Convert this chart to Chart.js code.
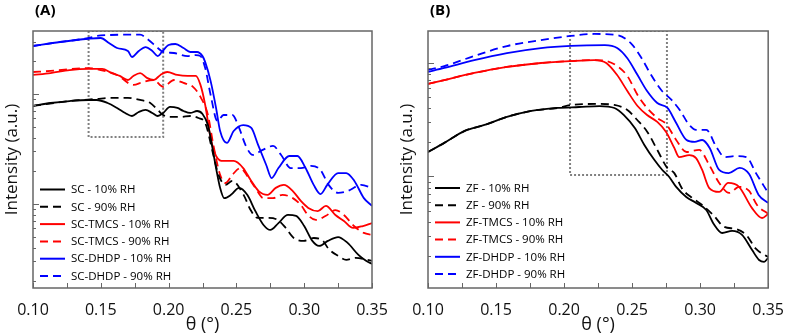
<!DOCTYPE html>
<html><head><meta charset="utf-8">
<script src="https://cdn.jsdelivr.net/npm/chart.js@4.4.1/dist/chart.umd.min.js"></script>
<style>
html,body{margin:0;padding:0;background:#fff;}
#wrap{position:relative;width:789px;height:336px;overflow:hidden;}
canvas{position:absolute;top:0;}
#cA{left:0;} #cB{left:395px;}
</style></head><body>
<div id="wrap"><canvas id="cA" width="395" height="336"></canvas><canvas id="cB" width="394" height="336"></canvas></div>
<script>
// ---------- Panel A (SC) ----------
const labelsA = ['SC - 10% RH','SC - 90% RH','SC-TMCS - 10% RH','SC-TMCS - 90% RH','SC-DHDP - 10% RH','SC-DHDP - 90% RH'];
const thetaA_SC10 = [0.100,0.113,0.127,0.141,0.147,0.155,0.162,0.168,0.173,0.178,0.183,0.188,0.192,0.196,0.201,0.2065,0.211,0.216,0.221,0.225,0.229,0.231,0.235,0.238,0.241,0.246,0.252,0.258,0.264,0.270,0.275,0.281,0.288,0.294,0.300,0.306,0.311,0.3175,0.325,0.332,0.340,0.3456,0.350];
const intA_SC10   = [7.78,8.28,8.63,8.82,8.82,8.28,7.46,6.72,6.31,6.86,7.16,6.72,6.31,6.72,7.62,7.46,7.00,6.72,7.00,6.58,5.22,3.98,2.12,1.40,1.13,1.21,1.40,1.21,0.86,0.644,0.58,0.67,0.794,0.78,0.63,0.461,0.415,0.461,0.50,0.442,0.344,0.304,0.285];
const thetaA_SC90 = [0.100,0.127,0.147,0.157,0.170,0.179,0.1865,0.192,0.196,0.201,0.209,0.216,0.222,0.227,0.233,0.2368,0.242,0.247,0.2553,0.2605,0.2657,0.273,0.2805,0.2864,0.2923,0.2997,0.3071,0.3138,0.318,0.325,0.331,0.338,0.350];
const intA_SC90   = [7.78,8.63,9.01,9.20,9.20,8.82,8.28,7.16,6.44,6.18,6.18,6.31,6.05,5.45,2.79,1.84,1.49,1.62,1.21,0.88,0.746,0.746,0.716,0.605,0.49,0.461,0.49,0.461,0.39,0.337,0.31,0.323,0.304];
const thetaA_TMCS10 = [0.100,0.113,0.127,0.141,0.151,0.158,0.164,0.170,0.174,0.179,0.184,0.189,0.194,0.199,0.2065,0.214,0.220,0.2235,0.227,0.231,0.235,0.2405,0.248,0.255,0.2605,0.2664,0.273,0.279,0.285,0.2916,0.2975,0.303,0.310,0.316,0.323,0.3293,0.336,0.3433,0.350];
const intA_TMCS10   = [14.9,15.5,16.5,16.9,16.9,15.5,14.6,13.4,14.6,15.5,14.0,13.4,14.9,15.85,14.9,14.6,14.6,12.1,7.94,3.98,2.73,2.46,2.46,2.12,1.65,1.31,1.21,1.40,1.49,1.31,1.065,0.92,0.86,0.96,0.794,0.70,0.605,0.63,0.67];
const thetaA_TMCS90 = [0.100,0.113,0.141,0.150,0.162,0.174,0.181,0.189,0.196,0.204,0.211,0.218,0.2235,0.229,0.233,0.238,0.242,0.247,0.253,0.258,0.264,0.270,0.277,0.284,0.2916,0.2975,0.3027,0.3086,0.316,0.323,0.3293,0.3367,0.344,0.350];
const intA_TMCS90   = [15.85,16.2,17.2,16.5,14.9,12.1,12.85,13.4,11.6,13.4,12.6,11.6,9.40,6.44,3.44,1.84,1.55,1.84,2.12,1.80,1.40,1.13,1.13,1.21,1.13,0.98,0.794,0.716,0.78,0.88,0.794,0.63,0.545,0.522];
const thetaA_DHDP10 = [0.100,0.120,0.141,0.150,0.156,0.162,0.170,0.173,0.178,0.183,0.188,0.192,0.195,0.200,0.205,0.211,0.216,0.221,0.225,0.227,0.231,0.235,0.238,0.243,0.248,0.255,0.261,0.266,0.272,0.276,0.281,0.289,0.295,0.301,0.307,0.312,0.317,0.325,0.331,0.337,0.344,0.350];
const intA_DHDP10   = [27.3,29.7,31.8,32.3,29.1,26.2,24.6,21.7,24.6,26.7,24.6,22.1,24.1,27.9,28.5,26.2,24.1,24.1,22.1,19.5,13.1,7.46,4.61,3.59,4.61,5.22,4.91,3.44,2.26,1.72,2.12,2.73,2.73,2.12,1.49,1.23,1.49,1.91,1.91,1.62,1.13,0.96];
const thetaA_DHDP90 = [0.100,0.120,0.141,0.147,0.157,0.170,0.179,0.185,0.192,0.196,0.204,0.214,0.220,0.2235,0.227,0.231,0.236,0.2405,0.247,0.252,0.257,0.262,0.2694,0.277,0.283,0.290,0.2975,0.305,0.312,0.318,0.325,0.332,0.342,0.350];
const intA_DHDP90   = [27.3,29.7,32.3,33.7,34.4,34.6,34.6,31.2,26.2,24.1,23.6,22.1,22.6,22.1,17.2,9.8,5.68,6.44,6.44,4.91,3.37,2.79,3.10,3.37,2.79,2.12,2.12,2.22,2.04,1.49,1.26,1.31,1.49,1.40];
const boxA_theta = [0.141,0.141,0.196,0.196,0.141];
const boxA_int   = [37.4,4.06,4.06,37.4,37.4];
const yRangeA = [0.172, 37.4];

// ---------- Panel B (ZF) ----------
const labelsB = ['ZF - 10% RH','ZF - 90% RH','ZF-TMCS - 10% RH','ZF-TMCS - 90% RH','ZF-DHDP - 10% RH','ZF-DHDP - 90% RH'];
const thetaB_ZF10 = [0.100,0.112,0.127,0.1415,0.158,0.176,0.195,0.211,0.226,0.237,0.244,0.252,0.259,0.2663,0.2722,0.2773,0.2824,0.2898,0.2971,0.3045,0.310,0.3162,0.3235,0.3308,0.3382,0.3433,0.347,0.350];
const intB_ZF10   = [1.64,1.97,2.51,2.83,3.33,3.76,3.99,4.07,4.15,3.99,3.46,2.66,1.89,1.40,1.14,0.99,0.81,0.661,0.586,0.508,0.383,0.319,0.333,0.307,0.226,0.185,0.178,0.193];
const thetaB_ZF90 = [0.100,0.112,0.127,0.1415,0.158,0.176,0.195,0.2054,0.2244,0.2369,0.2465,0.2538,0.2612,0.2685,0.2758,0.281,0.2869,0.2942,0.3015,0.3096,0.3177,0.3264,0.3338,0.3411,0.3485,0.350];
const intB_ZF90   = [1.64,1.97,2.51,2.83,3.33,3.76,3.99,4.24,4.33,4.24,3.83,3.13,2.46,1.71,1.19,1.07,0.777,0.648,0.562,0.459,0.361,0.346,0.307,0.231,0.201,0.197];
const thetaB_TMCS10 = [0.100,0.112,0.134,0.158,0.183,0.205,0.222,0.231,0.239,0.2465,0.254,0.261,0.2685,0.275,0.281,0.2846,0.292,0.297,0.3015,0.3067,0.314,0.3206,0.3286,0.338,0.3455,0.350];
const intB_TMCS10   = [6.48,7.02,8.09,9.14,9.90,10.3,10.5,9.90,7.76,5.62,4.15,3.46,3.01,2.46,1.78,1.48,1.54,1.45,1.14,0.79,0.731,0.877,0.81,0.53,0.432,0.469];
const thetaB_TMCS90 = [0.100,0.112,0.134,0.158,0.183,0.205,0.222,0.2296,0.239,0.2465,0.254,0.261,0.2685,0.275,0.2824,0.290,0.2993,0.3067,0.314,0.3213,0.3286,0.336,0.3418,0.350];
const intB_TMCS90   = [6.48,7.02,8.09,9.14,9.90,10.3,10.5,10.4,9.31,7.62,5.19,3.99,3.26,2.89,2.09,1.64,1.71,1.26,0.877,0.717,0.81,0.746,0.562,0.469];
const thetaB_DHDP10 = [0.100,0.112,0.134,0.158,0.183,0.205,0.230,0.239,0.2465,0.254,0.261,0.2685,0.276,0.282,0.290,0.296,0.3015,0.307,0.314,0.321,0.329,0.336,0.343,0.350];
const intB_DHDP10   = [8.26,8.95,10.5,12.1,13.4,14.0,14.2,13.4,10.9,7.76,5.62,4.41,3.99,3.01,2.09,2.01,2.09,1.78,1.14,1.07,1.19,1.05,0.689,0.586];
const thetaB_DHDP90 = [0.100,0.112,0.134,0.158,0.183,0.205,0.222,0.239,0.249,0.257,0.264,0.2714,0.279,0.285,0.292,0.297,0.3045,0.312,0.318,0.3264,0.334,0.341,0.350];
const intB_DHDP90   = [8.60,9.31,11.4,13.95,15.7,17.1,17.8,17.4,14.8,10.9,7.76,5.74,4.69,3.83,2.83,2.56,2.56,1.81,1.48,1.51,1.48,1.07,0.717];
const boxB_theta = [0.2044,0.2044,0.2756,0.2756,0.2044];
const boxB_int   = [18.9,1.03,1.03,18.9,18.9];
const yRangeB = [0.105, 18.9];

const xTickLabels = ['0.10','0.15','0.20','0.25','0.30','0.35'];

// ---------- helpers ----------
function pts(xs, ys){ return xs.map((x,i)=>({x:x, y:ys[i]})); }
const COLORS = ['#000000','#000000','#ff0000','#ff0000','#0000ff','#0000ff'];
const DASH = [8,5];
function series(label, i, xs, ys){
  return {label, data: pts(xs, ys), borderColor: COLORS[i], borderWidth: 1.8,
    borderDash: (i % 2 === 1) ? DASH : [], pointRadius: 0, fill: false,
    cubicInterpolationMode: 'monotone', isSeries: true};
}
function boxSet(xs, ys){
  return {label:'box', data: pts(xs, ys), borderColor:'#808080', borderWidth:2,
    borderDash:[2,2], pointRadius:0, fill:false, tension:0, isSeries:false};
}

const decor = {
  id: 'decor',
  afterDraw(chart, args, o){
    const ctx = chart.ctx, a = chart.chartArea;
    const xs = chart.scales.x, ys = chart.scales.y;
    ctx.save();
    // frame
    ctx.strokeStyle = '#666'; ctx.lineWidth = 1.5; ctx.setLineDash([]);
    ctx.strokeRect(a.left, a.top, a.right - a.left, a.bottom - a.top);
    // x ticks every 0.025, inward
    ctx.lineWidth = 1;
    ctx.beginPath();
    for (let k = 0; k <= 10; k++){
      const v = 0.1 + k * 0.025;
      const px = Math.round(xs.getPixelForValue(v)) + 0.5;
      ctx.moveTo(px, a.bottom); ctx.lineTo(px, a.bottom - 5);
    }
    // y log ticks inward
    const mn = ys.min, mx = ys.max;
    for (let e = Math.floor(Math.log10(mn)); e <= Math.ceil(Math.log10(mx)); e++){
      for (let m = 1; m <= 9; m++){
        const v = m * Math.pow(10, e);
        if (v < mn || v > mx) continue;
        const py = Math.round(ys.getPixelForValue(v)) + 0.5;
        ctx.moveTo(a.left, py); ctx.lineTo(a.left + (m === 1 ? 6 : 3), py);
      }
    }
    ctx.stroke();
    // panel label
    ctx.fillStyle = '#000';
    ctx.font = 'bold 15px "Open Sans"';
    ctx.textBaseline = 'middle'; ctx.textAlign = 'left';
    ctx.fillText(o.panel, 35, 11);
    // legend
    ctx.font = '11.5px "Open Sans"';
    const ds = chart.data.datasets.filter(d => d.isSeries);
    ds.forEach((d, i) => {
      const y = o.legY + i * o.legStep;
      ctx.strokeStyle = d.borderColor; ctx.lineWidth = 2;
      ctx.setLineDash(d.borderDash || []);
      ctx.beginPath(); ctx.moveTo(o.legX, y); ctx.lineTo(o.legX + 25, y); ctx.stroke();
      ctx.setLineDash([]);
      ctx.fillStyle = '#000';
      ctx.fillText(d.label, o.legX + 31, y + 0.5);
    });
    ctx.restore();
  }
};

function makeChart(id, datasets, yRange, rightPad, opts){
  return new Chart(document.getElementById(id), {
    type: 'line',
    data: {datasets},
    options: {
      responsive: false, animation: false, devicePixelRatio: 1,
      layout: {padding: {left: 0, top: 31, right: rightPad, bottom: 0}},
      plugins: {legend: {display: false}, tooltip: {enabled: false}, decor: opts},
      scales: {
        x: {type: 'linear', min: 0.1, max: 0.35,
          grid: {display: false}, border: {display: false},
          afterBuildTicks(s){ s.ticks = xTickLabels.map(t => ({value: parseFloat(t)})); },
          ticks: {autoSkip: false, maxRotation: 0, padding: 5, color: '#111',
            font: {family: 'Open Sans', size: 16},
            callback: (v) => { const l = xTickLabels.find(t => Math.abs(parseFloat(t) - v) < 1e-6); return l || ''; }},
          title: {display: true, text: 'θ (°)', color: '#111', padding: 0,
            font: {family: 'Open Sans', size: 18}},
          afterFit(s){ s.height = 48; }
        },
        y: {type: 'logarithmic', min: yRange[0], max: yRange[1],
          grid: {display: false}, border: {display: false},
          ticks: {display: false},
          title: {display: true, text: 'Intensity (a.u.)', color: '#111',
            padding: {top: 2, bottom: 0}, font: {family: 'Open Sans', size: 17}},
          afterFit(s){ s.width = 33; }
        }
      }
    },
    plugins: [decor]
  });
}

const dsA = [
  series(labelsA[0], 0, thetaA_SC10, intA_SC10),
  series(labelsA[1], 1, thetaA_SC90, intA_SC90),
  series(labelsA[2], 2, thetaA_TMCS10, intA_TMCS10),
  series(labelsA[3], 3, thetaA_TMCS90, intA_TMCS90),
  series(labelsA[4], 4, thetaA_DHDP10, intA_DHDP10),
  series(labelsA[5], 5, thetaA_DHDP90, intA_DHDP90),
  boxSet(boxA_theta, boxA_int)
];
const dsB = [
  series(labelsB[0], 0, thetaB_ZF10, intB_ZF10),
  series(labelsB[1], 1, thetaB_ZF90, intB_ZF90),
  series(labelsB[2], 2, thetaB_TMCS10, intB_TMCS10),
  series(labelsB[3], 3, thetaB_TMCS90, intB_TMCS90),
  series(labelsB[4], 4, thetaB_DHDP10, intB_DHDP10),
  series(labelsB[5], 5, thetaB_DHDP90, intB_DHDP90),
  boxSet(boxB_theta, boxB_int)
];

makeChart('cA', dsA, yRangeA, 23, {panel: '(A)', legX: 40, legY: 189.5, legStep: 17.3});
makeChart('cB', dsB, yRangeB, 19, {panel: '(B)', legX: 40, legY: 188, legStep: 17.2});
</script>
</body></html>
